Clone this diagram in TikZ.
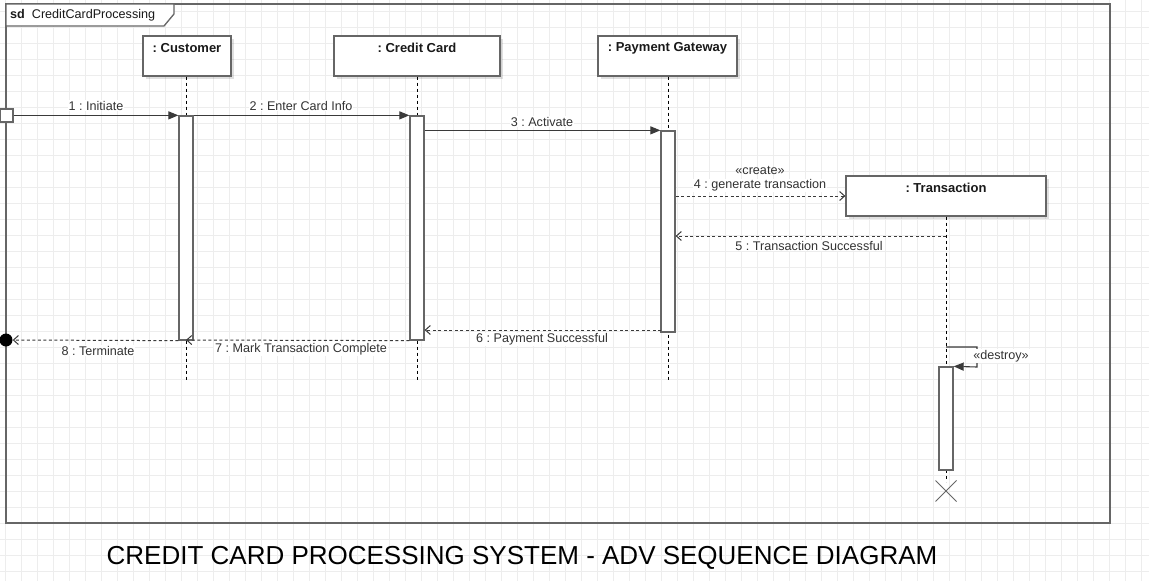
\documentclass[tikz,border=0pt]{standalone}
\usepackage{fontspec}
\setmainfont{Liberation Sans}
\usetikzlibrary{arrows.meta,shapes.misc,shadows}
\definecolor{gridc}{HTML}{EDEDED}
\definecolor{linec}{HTML}{666666}
\definecolor{msgc}{HTML}{3A3A3A}
\definecolor{txtc}{HTML}{333333}
\frenchspacing
\tikzset{
  head/.style={draw=linec, line width=1.3pt, fill=white, minimum height=40pt, inner sep=0pt,
    drop shadow={shadow xshift=3pt, shadow yshift=-3pt, opacity=0.12, fill=black}},
  headtxt/.style={font=\bfseries\fontsize{13}{15}\selectfont, text=black!90, inner sep=0pt},
  act/.style={draw=linec, line width=1.3pt, fill=white, minimum width=14pt, inner sep=0pt},
  life/.style={dash pattern=on 3pt off 3pt, line width=0.9pt, black},
  msg/.style={draw=msgc, line width=1.1pt, -{Triangle[length=10pt,width=8pt]}},
  ret/.style={draw=msgc, line width=1pt, dash pattern=on 3pt off 2.5pt, -{Straight Barb[length=5pt,width=9pt]}},
  lbl/.style={font=\fontsize{12.6}{14}\selectfont, text=txtc, fill=white, inner sep=1pt},
}
\begin{document}
\frenchspacing
\begin{tikzpicture}[x=1pt,y=-1pt]
\useasboundingbox (0,0) rectangle (1149,581);
\fill[white] (0,0) rectangle (1149,581);
% grid
\foreach \i in {0,...,71} \draw[gridc, line width=0.9pt] (5.5+16*\i,0) -- (5.5+16*\i,581);
\foreach \j in {0,...,36} \draw[gridc, line width=0.9pt] (0,11.7+16*\j) -- (1149,11.7+16*\j);
% frame
\draw[linec, line width=1.3pt] (6,4) rectangle (1110,523);
\draw[linec, line width=1.3pt, fill=white] (6,4) -- (174,4) -- (174,14) -- (164,26) -- (6,26) -- cycle;
\node[anchor=west, font=\fontsize{12.6}{14}\selectfont, text=black!90, inner sep=0pt] (sd) at (10,15) {\textbf{sd}\ \ CreditCardProcessing};
% heads
\node[head, minimum width=88pt] (cust) at (187,56) {};
\node[head, minimum width=166pt] (cc) at (417,56) {};
\node[head, minimum width=139pt] (pg) at (667.5,56) {};
\node[head, minimum width=200pt] (trans) at (946,196) {};
\node[headtxt] (custt) at ([yshift=-12.5pt]cust.north) {: Customer};
\node[headtxt] (cct) at ([yshift=-12.5pt]cc.north) {: Credit Card};
\node[headtxt] (pgt) at ([yshift=-12.5pt]pg.north) {: Payment Gateway};
\node[headtxt] (transt) at ([yshift=-12.5pt]trans.north) {: Transaction};
% lifelines
\coordinate (custend) at (186,380);
\coordinate (ccend) at (417,380);
\coordinate (pgend) at (668,380);
\coordinate (xpos) at (946,491);
\draw[life] (cust.south -| custend) -- (custend);
\draw[life] (cc.south -| ccend) -- (ccend);
\draw[life] (pg.south -| pgend) -- (pgend);
\draw[life] (trans.south) -- (946,367);
\draw[life] (946,470) -- (946,482);
% activations
\node[act, minimum height=224pt] (custact) at (186,228) {};
\node[act, minimum height=224pt] (ccact) at (417,228) {};
\node[act, minimum height=201pt] (pgact) at (668,231.5) {};
\node[act, minimum height=103pt] (transact) at (946,418.5) {};
% found / lost
\node[draw=linec, line width=1.3pt, fill=white, minimum size=13pt, inner sep=0pt] (found) at (6.5,115.5) {};
\node[circle, fill=black, minimum size=13pt, inner sep=0pt] (lost) at (6,340) {};
% messages
\draw[msg] (found.east |- custact.north) -- (custact.north west);
\node[lbl] (l1) at (96,105.5) {1 : Initiate};
\draw[msg] (custact.north east) -- (ccact.north west);
\node[lbl] (l2) at (301,105.5) {2 : Enter Card Info};
\draw[msg] (ccact.east |- pgact.north) -- (pgact.north west);
\node[lbl] (l3) at (542,121.5) {3 : Activate};
\draw[ret] (pgact.east |- trans.west) -- (trans.west);
\node[lbl, fill=none] (l4a) at (760,170.5) {«create»};
\node[lbl] (l4) at (760,185.5) {4 : generate transaction};
\coordinate (t5) at (946,236);
\draw[ret] (t5) -- (pgact.east |- t5);
\node[lbl] (l5) at (809,245.5) {5 : Transaction Successful};
\coordinate (t6) at (661,330);
\draw[ret] (t6) -- (ccact.east |- t6);
\node[lbl] (l6) at (542,339.5) {6 : Payment Successful};
\coordinate (t7) at (186,340);
\draw[ret] (ccact.south west) -- (t7);
\node[lbl] (l7) at (301,349.5) {7 : Mark Transaction Complete};
\draw[ret] (custact.south west) -- (lost.east);
\node[lbl] (l8) at (98,350.5) {8 : Terminate};
% destroy
\coordinate (d1) at (946,347);
\draw[draw=msgc, line width=1.1pt, -{Triangle[length=10pt,width=8pt]}] (d1) -- (977,347) -- (977,367) -- (transact.north east);
\node[lbl] (ld) at (1001,356) {«destroy»};
\node[cross out, draw=linec, line width=1pt, minimum size=20pt, inner sep=0pt] (x) at (xpos) {};
% title
\node[font=\fontsize{26}{30}\selectfont, text=black, inner sep=0pt] (title) at (522,558) {CREDIT CARD PROCESSING SYSTEM - ADV SEQUENCE DIAGRAM};
\end{tikzpicture}
\end{document}
